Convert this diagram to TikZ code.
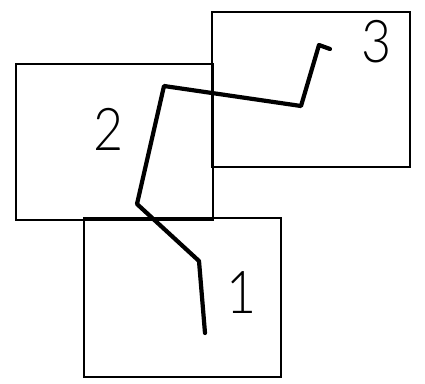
\documentclass[tikz,border=0pt]{standalone}
\usepackage{fontspec}
\newfontfamily\lblfont{Lato}[UprightFont=* Light]
\begin{document}
\begin{tikzpicture}[x=1pt,y=-1pt,
  panel/.style={draw=black,line width=1.4pt,fill=none},
  wire/.style={draw=black,line width=4.2pt,line join=round,line cap=round},
  digit/.style={inner sep=0pt,xscale=0.88,font=\lblfont\fontsize{59}{59}\selectfont}]
\useasboundingbox (0,0) rectangle (425,383);
\draw[panel] (212,12) rectangle (410,167);
\draw[panel] (16,64) rectangle (213,220);
\draw[panel] (84,218) rectangle (281,377);
\node[digit] (n3) at (377,41.5) {3};
\node[digit] (n2) at (108.5,129) {2};
\node[digit] (n1) at (242,292.5) {1};
\coordinate (a) at (330,49);
\coordinate (b) at (319,45);
\coordinate (c) at (301,106);
\coordinate (d) at (164,86);
\coordinate (e) at (137,204);
\coordinate (f) at (199,261);
\coordinate (g) at (205,333);
\draw[wire] (a) -- (b) -- (c) -- (d) -- (e) -- (f) -- (g);
\end{tikzpicture}
\end{document}
